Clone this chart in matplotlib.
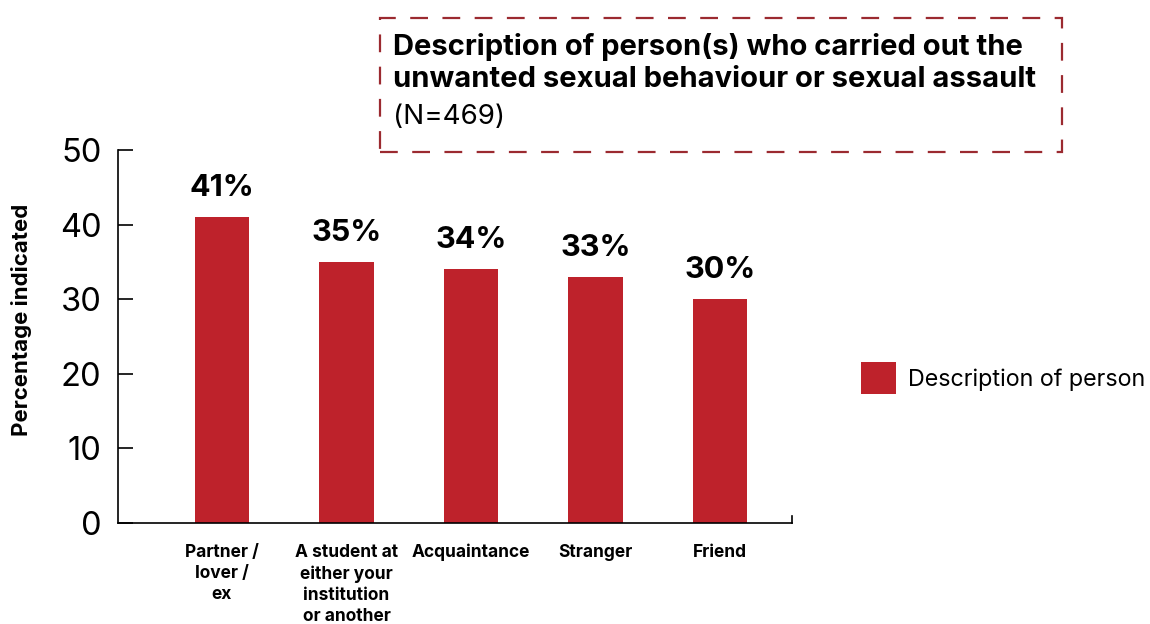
import matplotlib
matplotlib.use("Agg")
import matplotlib.pyplot as plt
from matplotlib.patches import Rectangle, Patch

plt.rcParams['font.family'] = ['Inter', 'DejaVu Sans']

categories = ["Partner /\nlover /\nex", "A student at\neither your\ninstitution\nor another",
              "Acquaintance", "Stranger", "Friend"]
values = [41, 35, 34, 33, 30]
value_labels = ["41%", "35%", "34%", "33%", "30%"]
yticks = [0, 10, 20, 30, 40, 50]
series_name = "Description of person"
title_bold = "Description of person(s) who carried out the\nunwanted sexual behaviour or sexual assault"
title_sub = "(N=469)"

bar_color = "#be222b"
box_color = "#9b2a30"

fig = plt.figure(figsize=(11.5, 6.24), dpi=100)
ax = fig.add_axes([118/1150, 1-523/624, (792-118)/1150, (523-150)/624])

x = list(range(len(categories)))
ax.bar(x, values, width=0.44, color=bar_color, zorder=2)
for xi, v, lab in zip(x, values, value_labels):
    ax.annotate(lab, (xi, v), xytext=(0, 11), textcoords='offset points',
                ha='center', va='bottom', fontsize=22, fontweight='bold', color='black')

ax.set_xlim(-0.835, 4.578)
ax.set_ylim(0, 50)
ax.set_yticks(yticks)
ax.set_yticklabels([str(t) for t in yticks], fontsize=23.5)
ax.set_xticks(x)
ax.set_xticklabels(categories, fontsize=12.5, fontweight='bold', linespacing=1.32, va='top')
ax.tick_params(axis='x', length=0, pad=15)
ax.tick_params(axis='y', direction='in', length=11, width=1.2, pad=12)
for s in ['top', 'right']:
    ax.spines[s].set_visible(False)
for s in ['left', 'bottom']:
    ax.spines[s].set_linewidth(1.2)
ax.plot([1, 1], [0, 0.018], transform=ax.transAxes, color='black', lw=1.2, clip_on=False)

ax.set_ylabel("Percentage indicated", fontsize=16, fontweight='bold')
ax.yaxis.set_label_coords(-0.128, 0.545)

# title box
box = Rectangle((380/1150, 1-152/624), (1062-380)/1150, (152-18)/624,
                transform=fig.transFigure, fill=False, edgecolor=box_color,
                linewidth=1.6, linestyle=(0, (8, 6.5)))
fig.patches.append(box)
fig.text(393/1150, 1-33/624, title_bold, fontsize=21, fontweight='bold', va='top',
         ha='left', linespacing=1.25)
fig.text(393/1150, 1-104/624, title_sub, fontsize=20, va='top', ha='left')

# legend
handles = [Patch(facecolor=bar_color, edgecolor='none', label=series_name)]
fig.legend(handles=handles, loc='center left', bbox_to_anchor=(840/1150, 1-378/624),
           frameon=False, fontsize=16.8, handlelength=1.5, handleheight=1.75,
           handletextpad=0.5)

fig.savefig("out.png", dpi=100)
